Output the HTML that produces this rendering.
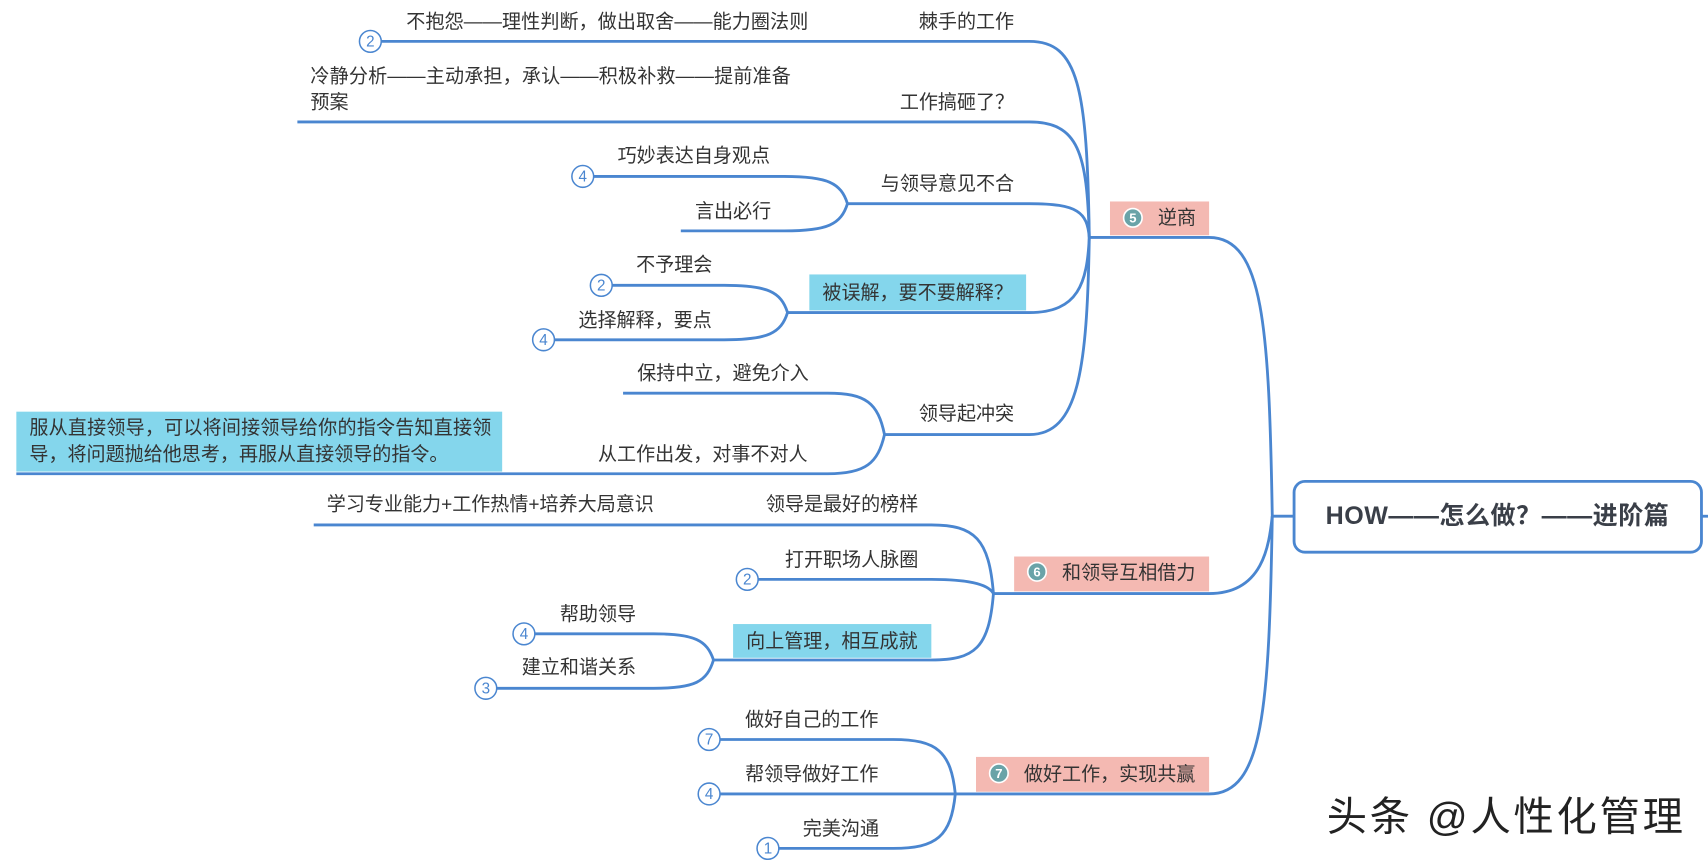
<!DOCTYPE html>
<html><head><meta charset="utf-8"><style>
html,body{margin:0;padding:0;background:#fff;}
svg{display:block;}
text{font-family:"Liberation Sans","Noto Sans CJK SC",sans-serif;font-size:17.5px;fill:#333;dominant-baseline:middle;}
.l{fill:none;stroke:#4a86d0;stroke-width:2.6;}
.c{fill:#fff;stroke:#4a86d0;stroke-width:1.4;}
.cn{fill:#4a86d0;font-size:14px;text-anchor:middle;}
.r{text-anchor:end;}
.bn{fill:#fff;font-size:12px;font-weight:bold;text-anchor:middle;}
</style></head><body>
<svg width="1708" height="868" viewBox="0 0 1568 797" preserveAspectRatio="none" xmlns="http://www.w3.org/2000/svg">
<rect x="1019" y="185" width="91" height="31" fill="#f4b9b2"/>
<rect x="931" y="511" width="179" height="32" fill="#f4b9b2"/>
<rect x="896" y="695" width="214" height="32" fill="#f4b9b2"/>
<rect x="743" y="252" width="199" height="33" fill="#84d6ec"/>
<rect x="15" y="378" width="446" height="55" fill="#84d6ec"/>
<rect x="673" y="573" width="182" height="31" fill="#84d6ec"/>

<path class="l" d="M1188,474 H1168 C1165,300 1160,218 1110,218 H1000"/>
<path class="l" d="M1168,474 C1165,500 1160,545 1110,545 H912"/>
<path class="l" d="M1168,474 C1165,650 1160,729 1110,729 H877"/>
<path class="l" d="M1562,474 H1568"/>
<rect x="1188" y="442" width="374" height="65" rx="10" fill="#fff" stroke="#4a86d0" stroke-width="2.6"/>
<text x="1217" y="475" textLength="315" style="font-size:23px;font-weight:bold;fill:#3a3f48">HOW——怎么做？——进阶篇</text>

<path class="l" d="M1000,218 C998,80 990,38 945,38 H340"/>
<path class="l" d="M1000,218 C998,140 990,112 945,112 H273"/>
<path class="l" d="M1000,218 C998,195 990,187 945,187 H778"/>
<path class="l" d="M1000,218 C998,260 990,287 945,287 H723"/>
<path class="l" d="M1000,218 C998,340 990,399 945,399 H812"/>
<path class="l" d="M778,187 C772,168 760,162 720,162 H535"/>
<path class="l" d="M778,187 C772,206 760,212 720,212 H625"/>
<path class="l" d="M723,287 C717,268 705,262 665,262 H552"/>
<path class="l" d="M723,287 C717,306 705,312 665,312 H499"/>
<path class="l" d="M812,399 C806,370 795,361 760,361 H572"/>
<path class="l" d="M812,399 C806,425 795,435 760,435 H15"/>
<path class="l" d="M912,545 C908,495 895,482 855,482 H288"/>
<path class="l" d="M912,545 C908,538 895,532 855,532 H686"/>
<path class="l" d="M912,545 C908,595 895,606 855,606 H655"/>
<path class="l" d="M655,606 C649,588 638,582 600,582 H481"/>
<path class="l" d="M655,606 C649,626 638,632 600,632 H446"/>
<path class="l" d="M877,729 C873,690 860,679 820,679 H651"/>
<path class="l" d="M877,729 H651"/>
<path class="l" d="M877,729 C873,768 860,779 820,779 H705"/>

<g>
<circle class="c" cx="340" cy="38" r="10"/><text class="cn" x="340" y="39">2</text>
<circle class="c" cx="535" cy="162" r="10"/><text class="cn" x="535" y="163">4</text>
<circle class="c" cx="552" cy="262" r="10"/><text class="cn" x="552" y="263">2</text>
<circle class="c" cx="499" cy="312" r="10"/><text class="cn" x="499" y="313">4</text>
<circle class="c" cx="686" cy="532" r="10"/><text class="cn" x="686" y="533">2</text>
<circle class="c" cx="481" cy="582" r="10"/><text class="cn" x="481" y="583">4</text>
<circle class="c" cx="446" cy="632" r="10"/><text class="cn" x="446" y="633">3</text>
<circle class="c" cx="651" cy="679" r="10"/><text class="cn" x="651" y="680">7</text>
<circle class="c" cx="651" cy="729" r="10"/><text class="cn" x="651" y="730">4</text>
<circle class="c" cx="705" cy="779" r="10"/><text class="cn" x="705" y="780">1</text>
</g>
<circle cx="1040" cy="200" r="8.5" fill="#6aa3a8" stroke="#fff" stroke-width="1.5"/><text class="bn" x="1040" y="201">5</text>
<circle cx="952" cy="525" r="8.5" fill="#6aa3a8" stroke="#fff" stroke-width="1.5"/><text class="bn" x="952" y="526">6</text>
<circle cx="917" cy="710" r="8.5" fill="#6aa3a8" stroke="#fff" stroke-width="1.5"/><text class="bn" x="917" y="711">7</text>

<text x="1063" y="201">逆商</text>
<text x="975" y="527">和领导互相借力</text>
<text x="940" y="712">做好工作，实现共赢</text>

<text class="r" x="931" y="21">棘手的工作</text>
<text x="373" y="21" textLength="369">不抱怨——理性判断，做出取舍——能力圈法则</text>
<text class="r" x="931" y="95">工作搞砸了？</text>
<text x="285" y="71" textLength="441">冷静分析——主动承担，承认——积极补救——提前准备</text>
<text x="285" y="95">预案</text>
<text class="r" x="931" y="170">与领导意见不合</text>
<text x="567" y="144">巧妙表达自身观点</text>
<text x="638" y="195">言出必行</text>
<text x="755" y="270">被误解，要不要解释？</text>
<text x="584" y="244">不予理会</text>
<text x="531" y="295">选择解释，要点</text>
<text class="r" x="931" y="381">领导起冲突</text>
<text x="585" y="344">保持中立，避免介入</text>
<text x="549" y="418">从工作出发，对事不对人</text>
<text x="27" y="394" textLength="424">服从直接领导，可以将间接领导给你的指令告知直接领</text>
<text x="27" y="418">导，将问题抛给他思考，再服从直接领导的指令。</text>

<text class="r" x="843" y="464">领导是最好的榜样</text>
<text x="300" y="464">学习专业能力+工作热情+培养大局意识</text>
<text class="r" x="843" y="515">打开职场人脉圈</text>
<text x="685" y="590">向上管理，相互成就</text>
<text x="514" y="565">帮助领导</text>
<text x="479" y="614">建立和谐关系</text>
<text x="684" y="662">做好自己的工作</text>
<text x="684" y="712">帮领导做好工作</text>
<text x="737" y="762">完美沟通</text>

<text x="1218" y="753" textLength="327" style="font-size:37px;fill:#222;">头条 @人性化管理</text>
</svg>
</body></html>
